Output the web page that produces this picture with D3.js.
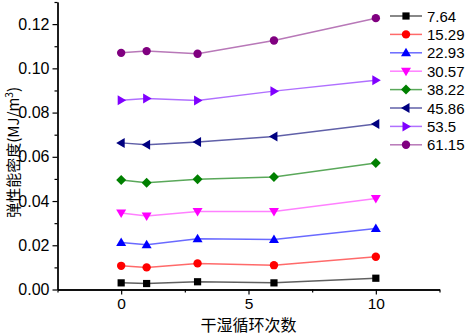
<!DOCTYPE html>
<html>
<head>
<meta charset="utf-8">
<script src="https://cdn.jsdelivr.net/npm/d3@7"></script>
<style>
  body { margin: 0; background: #fff; }
  svg { font-family: "Liberation Sans", Arial, sans-serif; }
</style>
</head>
<body>
<svg class="chart" width="467" height="336"></svg>
<script>
const cycles = [0, 1, 3, 6, 10];
const seriesNames = ["7.64", "15.29", "22.93", "30.57", "38.22", "45.86", "53.5", "61.15"];
const s764 = [0.0030, 0.0027, 0.0035, 0.0030, 0.0051];
const s1529 = [0.0107, 0.0100, 0.0118, 0.0110, 0.0148];
const s2293 = [0.0213, 0.0202, 0.0230, 0.0226, 0.0276];
const s3057 = [0.0346, 0.0332, 0.0353, 0.0353, 0.0411];
const s3822 = [0.0495, 0.0483, 0.0498, 0.0509, 0.0572];
const s4586 = [0.0663, 0.0655, 0.0667, 0.0692, 0.0748];
const s535 = [0.0856, 0.0864, 0.0855, 0.0897, 0.0946];
const s6115 = [0.1070, 0.1078, 0.1066, 0.1126, 0.1227];
const yTicks = [0, 0.02, 0.04, 0.06, 0.08, 0.10, 0.12];
const xTicks = [0, 5, 10];

const allValues = [s764, s1529, s2293, s3057, s3822, s4586, s535, s6115];
const markColors = ["#000000", "#ff0000", "#0000ff", "#ff00ff", "#008000", "#000080", "#8000ff", "#800080"];
const lineColors = ["#606060", "#ff6a6a", "#6a6aff", "#ff80ff", "#5aa85a", "#6060a8", "#b070ff", "#b878b8"];
const shapes = ["square", "circle", "up", "down", "diamond", "left", "right", "circle"];

const svg = d3.select(".chart");

const x = d3.scaleLinear().domain([-2.5, 12.5]).range([57.5, 439.5]);
const y = d3.scaleLinear().domain([0, 0.13]).range([289.5, 2]);

// axes
const xAxis = svg.append('g')
    .attr('transform', `translate(0,${y(0)})`)
    .call(d3.axisBottom(x).tickValues(xTicks).tickSize(5).tickSizeOuter(0).tickFormat(d3.format("d")));
svg.append('g')
    .attr('transform', `translate(0,${y(0)})`)
    .call(d3.axisBottom(x).tickValues([-2.5, 2.5, 7.5, 12.5]).tickSize(3).tickSizeOuter(0).tickFormat(""));

const yAxis = svg.append('g')
    .attr('transform', `translate(${x(-2.5)},0)`)
    .call(d3.axisLeft(y).tickValues(yTicks).tickSize(5).tickSizeOuter(0).tickFormat(d3.format(".2f")));
svg.append('g')
    .attr('transform', `translate(${x(-2.5)},0)`)
    .call(d3.axisLeft(y).tickValues([0.01, 0.03, 0.05, 0.07, 0.09, 0.11, 0.13]).tickSize(3).tickSizeOuter(0).tickFormat(""));

svg.selectAll('.domain').style('stroke', '#000').style('stroke-width', 1.3);
svg.selectAll('.tick line').style('stroke', '#000').style('stroke-width', 1.2);
xAxis.selectAll('.tick text').attr('y', 8).style('font-size', '15.5px').style('fill', '#000');
yAxis.selectAll('.tick text').attr('x', -8).style('font-size', '16px').style('fill', '#000');

// axis titles
svg.append('text')
    .attr('x', x(5))
    .attr('y', 331)
    .attr('text-anchor', 'middle')
    .style('font-family', '"Noto Sans CJK SC", sans-serif')
    .style('font-size', '16px')
    .text('干湿循环次数');

const yLabel = svg.append('text')
    .attr('transform', `translate(19,${y(0.062)}) rotate(-90)`)
    .attr('text-anchor', 'middle')
    .style('font-family', '"Noto Sans CJK SC", sans-serif')
    .style('font-size', '15px');
yLabel.append('tspan').text('弹性能密度(MJ/m');
yLabel.append('tspan').attr('dy', -6).style('font-size', '10px').text('3');
yLabel.append('tspan').attr('dy', 6).text(')');

function drawMarker(g, shape, color) {
    if (shape === 'circle') {
        g.append('circle').attr('r', 4.2).style('fill', color);
    } else if (shape === 'square') {
        g.append('rect').attr('x', -3.6).attr('y', -3.6).attr('width', 7.2).attr('height', 7.2).style('fill', color);
    } else {
        const paths = {
            up: 'M0,-5L5,3.5L-5,3.5Z',
            down: 'M0,5L5,-3.5L-5,-3.5Z',
            diamond: 'M0,-5L5,0L0,5L-5,0Z',
            left: 'M-5,0L3.5,-5L3.5,5Z',
            right: 'M5,0L-3.5,-5L-3.5,5Z'
        };
        g.append('path').attr('d', paths[shape]).style('fill', color);
    }
}

const line = d3.line()
    .x((d) => x(d.c))
    .y((d) => y(d.v));

allValues.forEach((vals, i) => {
    const pts = vals.map((v, j) => ({c: cycles[j], v: v}));
    svg.append('path')
        .datum(pts)
        .attr('d', line)
        .style('fill', 'none')
        .style('stroke', lineColors[i])
        .style('stroke-width', 1.5);
    pts.forEach((p) => {
        const g = svg.append('g').attr('transform', `translate(${x(p.c)},${y(p.v)})`);
        drawMarker(g, shapes[i], markColors[i]);
    });
});

// legend
const legend = svg.append('g').attr('transform', 'translate(390,16)');
seriesNames.forEach((name, i) => {
    const row = legend.append('g').attr('transform', `translate(0,${i * 18.4})`);
    row.append('line')
        .attr('x1', 0).attr('x2', 32)
        .style('stroke', lineColors[i])
        .style('stroke-width', 1.5);
    drawMarker(row.append('g').attr('transform', 'translate(16,0)'), shapes[i], markColors[i]);
    row.append('text')
        .attr('x', 37)
        .attr('y', 5.5)
        .style('font-size', '15px')
        .text(name);
});
</script>
</body>
</html>
